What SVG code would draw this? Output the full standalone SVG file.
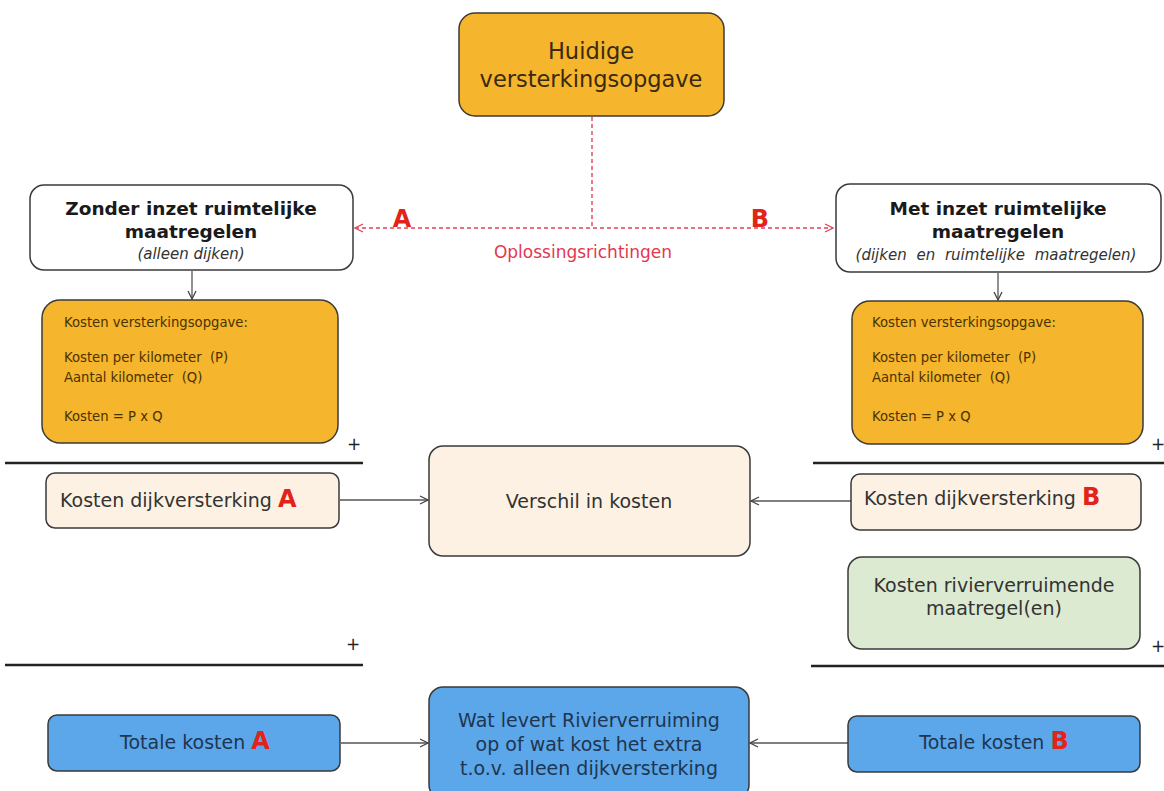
<svg xmlns="http://www.w3.org/2000/svg" width="1164" height="791" viewBox="0 0 1164 791">
<defs>
<marker id="ah" viewBox="0 0 10 10" refX="9" refY="5" markerWidth="10" markerHeight="10" markerUnits="userSpaceOnUse" orient="auto">
<path d="M1,1 L9,5 L1,9" fill="none" stroke="#444" stroke-width="1.3"/>
</marker>
<marker id="ahr" viewBox="0 0 10 10" refX="9" refY="5" markerWidth="10" markerHeight="10" markerUnits="userSpaceOnUse" orient="auto-start-reverse">
<path d="M1,1 L9,5 L1,9" fill="none" stroke="#e0435a" stroke-width="1.3"/>
</marker>
</defs>
<style>
.box{stroke:#3a3a3a;stroke-width:1.5}
.org{fill:#f5b52c}
.wht{fill:#ffffff}
.crm{fill:#fdf1e3}
.grn{fill:#dcead2}
.blu{fill:#5ba7ea}
text{font-family:"DejaVu Sans","Liberation Sans",sans-serif;fill:#2a2a2a}
.c{text-anchor:middle}
.bt{font-weight:bold;font-size:18.5px;fill:#1a1a1a}
.it{font-style:italic;font-size:15px;fill:#333}
.sm{font-size:13.2px;fill:#4a3200}
.md{font-size:19px;fill:#333}
.bl{fill:#1f3550}
.red{fill:#e2231a;font-weight:bold}
.big{font-size:24px}
.conn{stroke:#555;stroke-width:1.3;fill:none}
.dash{stroke:#e0435a;stroke-width:1.4;fill:none;stroke-dasharray:4 3}
.sep{stroke:#222;stroke-width:2.5}
.plus{font-size:17px;fill:#222}
</style>
<g id="connectors">
<path class="dash" d="M592,117 V228"/>
<path class="dash" d="M355,228 H833" marker-start="url(#ahr)" marker-end="url(#ahr)"/>
<path class="conn" d="M192,271 V299" marker-end="url(#ah)"/>
<path class="conn" d="M998,273 V300" marker-end="url(#ah)"/>
<path class="conn" d="M340,500 H428" marker-end="url(#ah)"/>
<path class="conn" d="M851,501 H751" marker-end="url(#ah)"/>
<path class="conn" d="M341,743 H428" marker-end="url(#ah)"/>
<path class="conn" d="M848,743 H750" marker-end="url(#ah)"/>
</g>
<g id="labels">
<text x="402" y="227" class="red" style="font-size:24px" text-anchor="middle">A</text>
<text x="760" y="227" class="red" style="font-size:24px" text-anchor="middle">B</text>
<text x="583" y="258" class="c" style="font-size:17px;fill:#e2384f">Oplossingsrichtingen</text>
</g>
<g id="separators">
<line class="sep" x1="5" y1="463" x2="363" y2="463"/>
<line class="sep" x1="813" y1="463" x2="1164" y2="463"/>
<line class="sep" x1="5" y1="665" x2="363" y2="665"/>
<line class="sep" x1="811" y1="666" x2="1164" y2="666"/>
<text x="354" y="450" class="plus c">+</text>
<text x="1158" y="450" class="plus c">+</text>
<text x="353" y="650" class="plus c">+</text>
<text x="1158" y="652" class="plus c">+</text>
</g>
<g id="n-huidige">
<rect class="box org" x="459" y="13" width="265" height="103" rx="16"/>
<text x="591" y="59" class="c" style="font-size:22.5px;fill:#3a2a10">Huidige</text>
<text x="591" y="87" class="c" style="font-size:22.5px;fill:#3a2a10">versterkingsopgave</text>
</g>
<g id="n-zonder">
<rect class="box wht" x="30" y="185" width="323" height="85" rx="14"/>
<text x="191" y="215" class="c bt">Zonder inzet ruimtelijke</text>
<text x="191" y="238" class="c bt">maatregelen</text>
<text x="191" y="259" class="c it">(alleen dijken)</text>
</g>
<g id="n-met">
<rect class="box wht" x="836" y="184" width="325" height="88" rx="14"/>
<text x="998" y="215" class="c bt">Met inzet ruimtelijke</text>
<text x="998" y="238" class="c bt">maatregelen</text>
<text x="996" y="260" class="c it" style="word-spacing:5px">(dijken en ruimtelijke maatregelen)</text>
</g>
<g id="n-kosten-a">
<rect class="box org" x="42" y="300" width="296" height="143" rx="18"/>
<text x="64" y="327" class="sm">Kosten versterkingsopgave:</text>
<text x="64" y="362" class="sm" xml:space="preserve">Kosten per kilometer  (P)</text>
<text x="64" y="382" class="sm" xml:space="preserve">Aantal kilometer  (Q)</text>
<text x="64" y="421" class="sm">Kosten = P x Q</text>
</g>
<g id="n-kosten-b">
<rect class="box org" x="852" y="301" width="291" height="143" rx="18"/>
<text x="872" y="327" class="sm">Kosten versterkingsopgave:</text>
<text x="872" y="362" class="sm" xml:space="preserve">Kosten per kilometer  (P)</text>
<text x="872" y="382" class="sm" xml:space="preserve">Aantal kilometer  (Q)</text>
<text x="872" y="421" class="sm">Kosten = P x Q</text>
</g>
<g id="n-dijk-a">
<rect class="box crm" x="46" y="473" width="293" height="55" rx="9"/>
<text x="60" y="507" class="md">Kosten dijkversterking <tspan class="red big">A</tspan></text>
</g>
<g id="n-verschil">
<rect class="box crm" x="429" y="446" width="321" height="110" rx="14"/>
<text x="589" y="508" class="c md">Verschil in kosten</text>
</g>
<g id="n-dijk-b">
<rect class="box crm" x="851" y="474" width="290" height="56" rx="9"/>
<text x="864" y="505" class="md">Kosten dijkversterking <tspan class="red big">B</tspan></text>
</g>
<g id="n-rivier">
<rect class="box grn" x="848" y="557" width="292" height="92" rx="14"/>
<text x="994" y="592" class="c md">Kosten rivierverruimende</text>
<text x="994" y="615" class="c md">maatregel(en)</text>
</g>
<g id="n-totaal-a">
<rect class="box blu" x="48" y="715" width="292" height="56" rx="9"/>
<text x="195" y="749" class="c md bl">Totale kosten <tspan class="red big">A</tspan></text>
</g>
<g id="n-wat">
<rect class="box blu" x="429" y="687" width="320" height="112" rx="14"/>
<text x="589" y="727" class="c md bl">Wat levert Rivierverruiming</text>
<text x="589" y="751" class="c md bl">op of wat kost het extra</text>
<text x="589" y="775" class="c md bl">t.o.v. alleen dijkversterking</text>
</g>
<g id="n-totaal-b">
<rect class="box blu" x="848" y="716" width="292" height="56" rx="9"/>
<text x="994" y="749" class="c md bl">Totale kosten <tspan class="red big">B</tspan></text>
</g>
</svg>
